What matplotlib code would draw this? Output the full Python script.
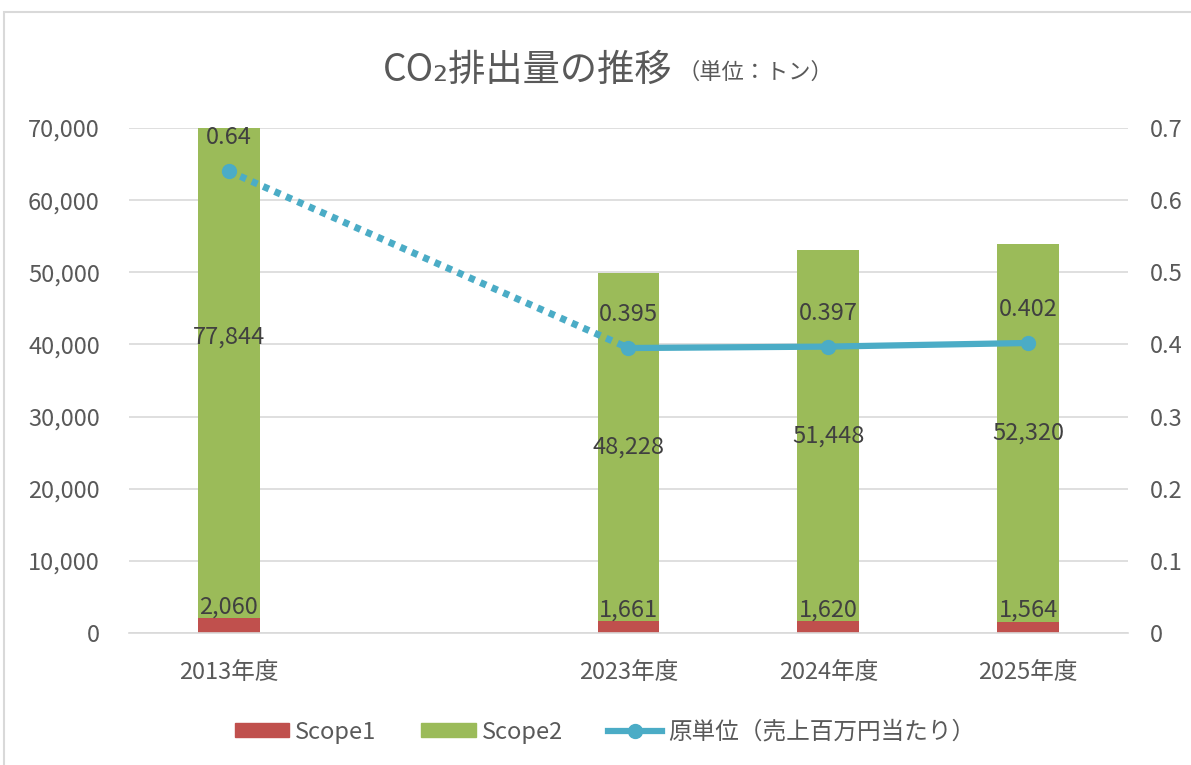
import matplotlib
matplotlib.use("Agg")
import matplotlib.pyplot as plt
from matplotlib.patches import Patch, Rectangle
from matplotlib.lines import Line2D
import numpy as np

plt.rcParams['font.family'] = ['Noto Sans CJK JP', 'DejaVu Sans']

categories = ["2013年度", "", "2023年度", "2024年度", "2025年度"]
scope1 = [2060, None, 1661, 1620, 1564]
scope2 = [77844, None, 48228, 51448, 52320]
intensity = [0.64, None, 0.395, 0.397, 0.402]
left_ticks = [0, 10000, 20000, 30000, 40000, 50000, 60000, 70000]
right_ticks = [0, 0.1, 0.2, 0.3, 0.4, 0.5, 0.6, 0.7]

C1 = "#C0504D"
C2 = "#9BBB59"
CL = "#4BACC6"
TXT = "#595959"
LBL = "#404040"
FS = 17

fig = plt.figure(figsize=(11.91, 7.65), dpi=100)
ax = fig.add_axes([129/1191, 132/765, 999/1191, 505/765])
ax2 = ax.twinx()

x = np.arange(len(categories))
idx = [i for i, v in enumerate(scope1) if v is not None]
s1 = np.array([scope1[i] for i in idx], dtype=float)
s2 = np.array([scope2[i] for i in idx], dtype=float)
xi = np.array(idx)
w = 0.31

ax.bar(xi, s1, width=w, color=C1, zorder=2)
ax.bar(xi, s2, width=w, bottom=s1, color=C2, zorder=2)

for xx, a, b in zip(xi, s1, s2):
    ax.annotate(f"{int(a):,}", (xx, a), xytext=(0, 8), textcoords="offset points",
                ha="center", va="center", fontsize=FS, color=LBL, zorder=5)
    ax.text(xx, a + b / 2, f"{int(b):,}", ha="center", va="center",
            fontsize=FS, color=LBL, zorder=5)

ax.set_xlim(-0.5, len(categories) - 0.5)
ax.set_ylim(left_ticks[0], left_ticks[-1])
ax.set_yticks(left_ticks)
ax.set_yticklabels([f"{t:,}" for t in left_ticks])
ax.set_xticks(x)
ax.set_xticklabels(categories)
ax.grid(axis="y", color="#D9D9D9", lw=1.2, zorder=0)
ax.set_axisbelow(True)
for s in ["top", "right", "left"]:
    ax.spines[s].set_visible(False)
ax.spines["bottom"].set_color("#D9D9D9")
ax.spines["bottom"].set_linewidth(1.2)
ax.tick_params(axis="both", length=0, labelsize=FS, labelcolor=TXT)
ax.tick_params(axis="x", pad=20)
ax.tick_params(axis="y", pad=21)

ax2.set_ylim(right_ticks[0], right_ticks[-1])
ax2.set_yticks(right_ticks)
ax2.set_yticklabels([f"{t:g}" for t in right_ticks])
for s in ["top", "right", "left", "bottom"]:
    ax2.spines[s].set_visible(False)
ax2.tick_params(axis="y", length=0, labelsize=FS, labelcolor=TXT, pad=16)

li = np.array([i for i, v in enumerate(intensity) if v is not None])
lv = np.array([intensity[i] for i in li])
# dotted connection across the gap
ax2.plot(li[:2], lv[:2], color=CL, lw=5, linestyle=(0, (0.9, 0.9)),
         dash_capstyle="butt", zorder=3)
ax2.plot(li[1:], lv[1:], color=CL, lw=4.5, solid_capstyle="round", zorder=3)
ax2.plot(li, lv, "o", color=CL, ms=10, zorder=4)
for xx, v in zip(li, lv):
    ax2.annotate(f"{v:g}", (xx, v), xytext=(0, 24), textcoords="offset points",
                 ha="center", va="center", fontsize=FS, color=LBL, zorder=5)

fig.text(383/1191, 0.908, "CO₂排出量の推移", ha="left", va="center",
         fontsize=26.8, color=TXT)
fig.text(678/1191, 0.906, "（単位：トン）", ha="left", va="center",
         fontsize=16, color=TXT)

handles = [Patch(color=C1), Patch(color=C2),
           Line2D([0], [0], color=CL, lw=4.5, marker="o", ms=10)]
fig.legend(handles, ["Scope1", "Scope2", "原単位（売上百万円当たり）"],
           loc="center", bbox_to_anchor=(605/1191, 0.043), ncol=3, frameon=False,
           fontsize=FS, handlelength=2.3, handleheight=0.55, columnspacing=1.9,
           handletextpad=0.25, labelcolor=TXT)

fig.patches.append(Rectangle((4/1191, -0.1), 1.2, (765-12)/765 + 0.1,
                             transform=fig.transFigure, fill=False,
                             edgecolor="#D9D9D9", lw=1.5))

fig.savefig("out.png", dpi=100)
